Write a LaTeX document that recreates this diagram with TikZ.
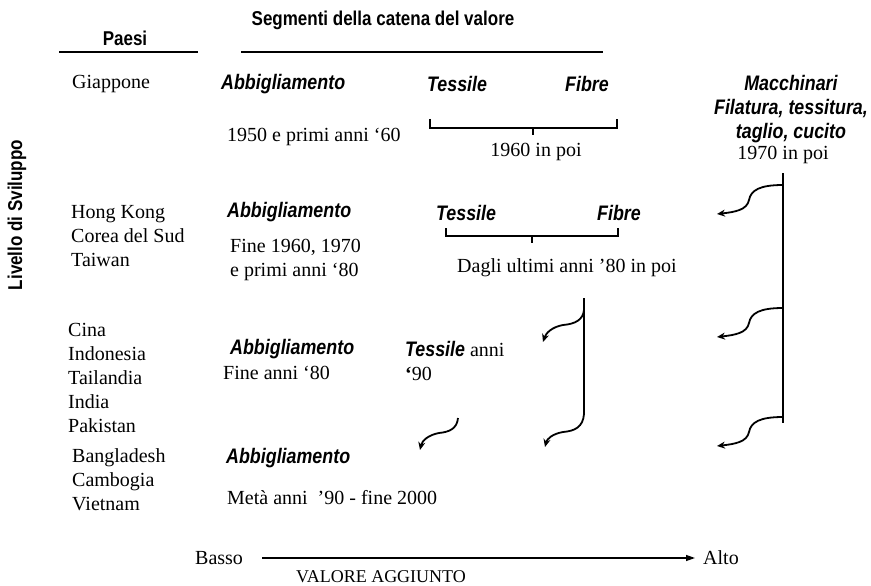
\documentclass[tikz,border=0pt]{standalone}
\usepackage{fontspec}
\setmainfont{Liberation Serif}
\setsansfont{Liberation Sans}
\newfontfamily\hdfont[FakeStretch=0.85]{Liberation Sans}
\newcommand\segfont{\hdfont\fontsize{21}{24}\selectfont\bfseries\itshape}
\usetikzlibrary{arrows.meta}
\tikzset{
  lbl/.style={font=\fontsize{20}{24}\selectfont,align=left,inner sep=0pt,anchor=west},
  seg/.style={font=\segfont,inner sep=0pt,anchor=west},
  head/.style={font=\hdfont\fontsize{20}{24}\selectfont\bfseries,inner sep=0pt},
  rule/.style={line width=2pt},
  brk/.style={line width=1.4pt},
  vline/.style={line width=1.6pt},
  hook/.style={-{Stealth[length=8pt,width=7pt]},line width=1.8pt},
  axis/.style={-{Triangle[length=9pt,width=6pt]},line width=1.3pt},
}

\begin{document}
\begin{tikzpicture}[x=1pt,y=-1pt]
  \useasboundingbox (0,0) rectangle (871,586);
  % headings
  \node[head] (segm) at (383,20) {Segmenti della catena del valore};
  \node[head] (paesi) at (125,38) {Paesi};
  \draw[rule] (59,52) -- (198,52);
  \draw[rule] (241,52) -- (603,52);
  \node[head,rotate=90] (livello) at (17,215) {Livello di Sviluppo};

  % Giappone
  \node[lbl] (giap) at (72,84) {Giappone};
  \node[seg] (abb1) at (221,84) {Abbigliamento};
  \node[seg] (tes1) at (427,84) {Tessile};
  \node[seg] (fib1) at (565,84) {Fibre};
  \node[lbl] (per1) at (227,137) {1950 e primi anni ‘60};
  \draw[brk] (430,119) -- (430,128) -- (617,128) -- (617,119) (533,128) -- (533,135);
  \node[lbl,anchor=center] (per1b) at (536,152) {1960 in poi};
  \node[seg,anchor=center,align=center] (macc) at (791,109) {Macchinari\\Filatura, tessitura,\\taglio, cucito};
  \node[lbl,anchor=center] (per1c) at (783,155) {1970 in poi};

  % Hong Kong, Corea, Taiwan
  \node[lbl] (hk) at (71,236) {Hong Kong\\Corea del Sud\\Taiwan};
  \node[seg] (abb2) at (227,212) {Abbigliamento};
  \node[lbl] (per2) at (230,260) {Fine 1960, 1970\\e primi anni ‘80};
  \node[seg] (tes2) at (436,213) {Tessile};
  \node[seg] (fib2) at (597,213) {Fibre};
  \draw[brk] (446,228) -- (446,236) -- (618,236) -- (618,228) (532,236) -- (532,243);
  \node[lbl] (per2b) at (457,268) {Dagli ultimi anni ’80 in poi};

  % Cina ... Pakistan
  \node[lbl] (cina) at (68,378) {Cina\\Indonesia\\Tailandia\\India\\Pakistan};
  \node[seg] (abb3) at (230,349) {Abbigliamento};
  \node[lbl] (per3) at (223,373) {Fine anni ‘80};
  \node[lbl] (tes3) at (405,361) {{\segfont Tessile} anni\\{\bfseries ‘}90};

  % Bangladesh, Cambogia, Vietnam
  \node[lbl] (bang) at (72,480) {Bangladesh\\Cambogia\\Vietnam};
  \node[seg] (abb4) at (226,458) {Abbigliamento};
  \node[lbl] (per4) at (227,498) {Metà anni~ ’90 - fine 2000};

  % shifts of production
  \coordinate (rtop) at (783,173);
  \coordinate (rbot) at (783,423);
  \draw[vline] (rtop) -- (rbot);
  \draw[hook] (783,185) .. controls (760,185) and (751,190) .. (749,200)
    .. controls (747,210) and (735,212) .. (717,214);
  \draw[hook] (783,308) .. controls (760,308) and (751,313) .. (749,323)
    .. controls (747,333) and (735,335) .. (717,337);
  \draw[hook] (783,417) .. controls (760,417) and (751,422) .. (749,432)
    .. controls (747,442) and (735,444) .. (717,446);

  \coordinate (mtop) at (584,298);
  \coordinate (mbot) at (584,414);
  \draw[vline] (mtop) -- (mbot);
  \draw[hook] (584,310) .. controls (583,320) and (575,324) .. (563,325)
    .. controls (552,327) and (546,333) .. (543,342);
  \draw[hook] (mbot) .. controls (583,427) and (575,431) .. (563,432)
    .. controls (552,434) and (547,439) .. (545,447);

  \draw[hook] (458,418) .. controls (457,429) and (449,432) .. (439,433)
    .. controls (428,435) and (422,441) .. (420,450);

  % value axis
  \node[lbl] (basso) at (195,558) {Basso};
  \node[lbl] (alto) at (703,558) {Alto};
  \draw[axis] ([xshift=19pt]basso.east) -- ([xshift=-8pt]alto.west);
  \node[lbl,anchor=center,font=\fontsize{18}{22}\selectfont] (valore) at (381,577) {VALORE AGGIUNTO};
\end{tikzpicture}
\end{document}
